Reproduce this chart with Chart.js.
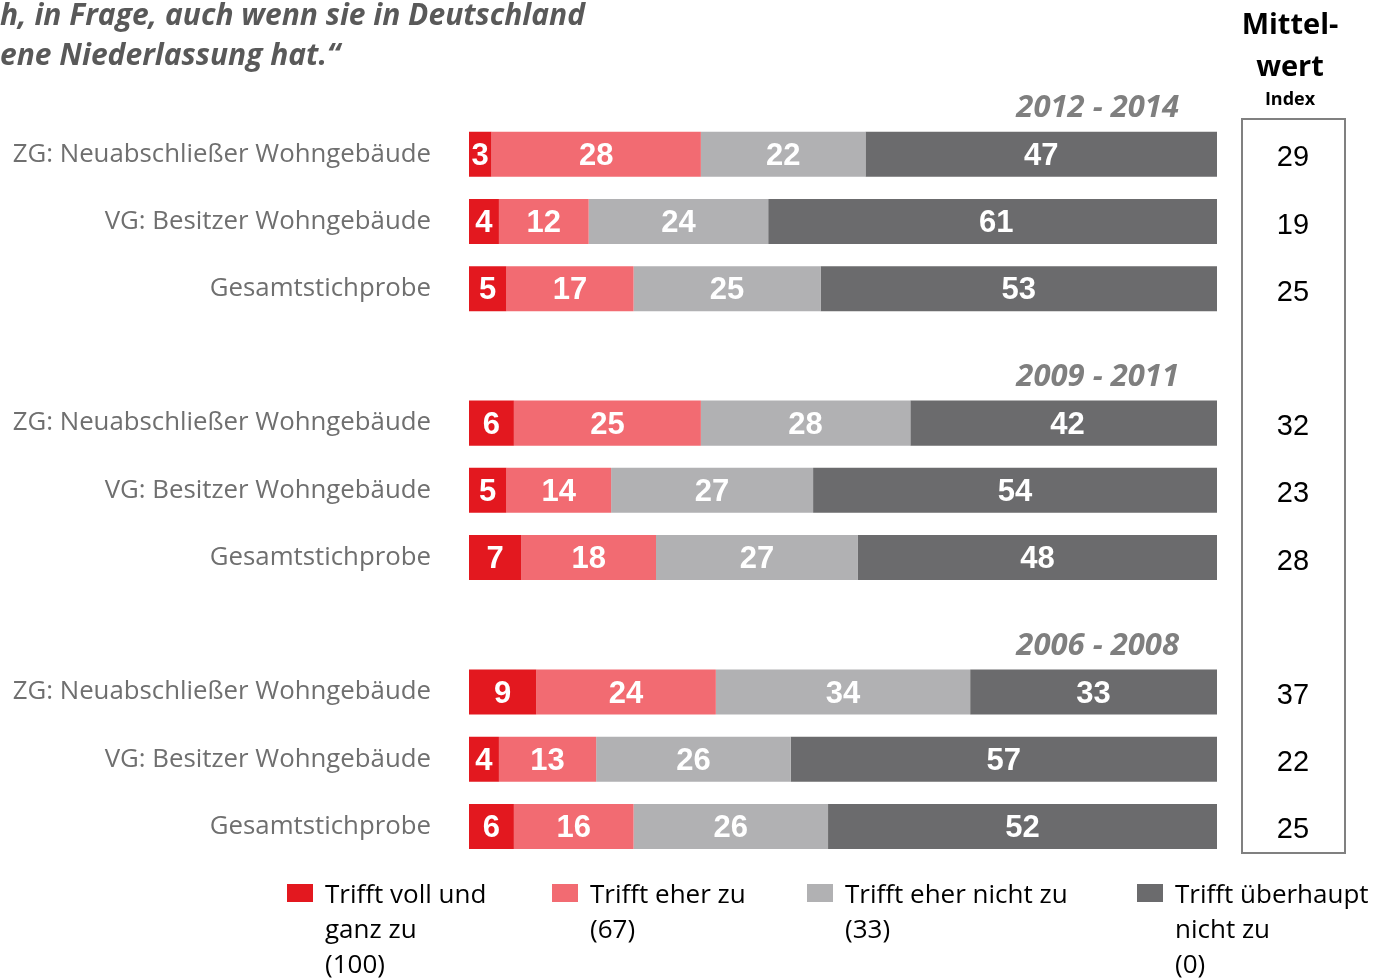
<!DOCTYPE html>
<html>
<head>
<meta charset="utf-8">
<script src="https://cdn.jsdelivr.net/npm/chart.js@4.4.1/dist/chart.umd.min.js"></script>
<style>
  html, body { margin: 0; padding: 0; background: #fff; }
  #wrap { position: relative; width: 1373px; height: 979px; overflow: hidden; }
  #chart { position: absolute; left: 0; top: 0; }
  .title { position: absolute; left: 0; font-family: "Open Sans", sans-serif; font-style: italic; font-weight: bold; font-size: 30px; color: #595959; white-space: nowrap; }
  .head { position: absolute; width: 120px; left: 1230px; text-align: center; font-family: "Open Sans", sans-serif; font-weight: bold; color: #000; }
  .leg { position: absolute; top: 876px; font-family: "Open Sans", sans-serif; font-size: 26px; line-height: 35px; color: #000; }
  .leg span { position: absolute; left: 0; top: 8px; width: 26px; height: 18px; }
  .leg div { margin-left: 38px; white-space: nowrap; }
</style>
</head>
<body>
<div id="wrap">
  <canvas id="chart" width="1373" height="979"></canvas>
  <div class="title" style="top:-7px">h, in Frage, auch wenn sie in Deutschland</div>
  <div class="title" style="top:33px">ene Niederlassung hat.“</div>
  <div class="head" style="top:2px;font-size:29px;line-height:42px">Mittel-<br>wert</div>
  <div class="head" style="top:86px;font-size:18px">Index</div>
  <div id="legend"></div>
</div>
<script>
document.addEventListener("DOMContentLoaded", function () {
    // rows (empty slots hold the period headings)
    const categories = ["", "ZG: Neuabschließer Wohngebäude", "VG: Besitzer Wohngebäude", "Gesamtstichprobe",
                        "", "ZG: Neuabschließer Wohngebäude", "VG: Besitzer Wohngebäude", "Gesamtstichprobe",
                        "", "ZG: Neuabschließer Wohngebäude", "VG: Besitzer Wohngebäude", "Gesamtstichprobe"];
    const periods = ["2012 - 2014", "", "", "", "2009 - 2011", "", "", "", "2006 - 2008", "", "", ""];

    const seriesNames = [["Trifft voll und", "ganz zu", "(100)"], ["Trifft eher zu", "(67)"],
                         ["Trifft eher nicht zu", "(33)"], ["Trifft überhaupt", "nicht zu", "(0)"]];
    const trifftVoll = [null, 3, 4, 5, null, 6, 5, 7, null, 9, 4, 6];
    const trifftEher = [null, 28, 12, 17, null, 25, 14, 18, null, 24, 13, 16];
    const eherNicht = [null, 22, 24, 25, null, 28, 27, 27, null, 34, 26, 26];
    const ueberhauptNicht = [null, 47, 61, 53, null, 42, 54, 48, null, 33, 57, 52];
    const mittelwert = [null, 29, 19, 25, null, 32, 23, 28, null, 37, 22, 25];

    const colors = ["#e3181f", "#f26b72", "#b1b1b3", "#6b6b6d"];
    const legendX = [287, 552, 807, 1137];

    // legend as html (multi-line labels)
    const legend = document.getElementById("legend");
    seriesNames.forEach((lines, i) => {
        const el = document.createElement("div");
        el.className = "leg";
        el.style.left = legendX[i] + "px";
        el.innerHTML = '<span style="background:' + colors[i] + '"></span><div>' + lines.join("<br>") + "</div>";
        legend.appendChild(el);
    });

    const textPlugin = {
        id: "texts",
        afterDatasetsDraw(chart) {
            const ctx = chart.ctx;
            const y = chart.scales.y;
            ctx.save();
            // values inside bars
            ctx.font = "bold 31px 'Liberation Sans', Arial, sans-serif";
            ctx.fillStyle = "#fff";
            ctx.textAlign = "center";
            ctx.textBaseline = "middle";
            chart.data.datasets.forEach((ds, di) => {
                chart.getDatasetMeta(di).data.forEach((bar, i) => {
                    if (ds.data[i] == null) return;
                    ctx.fillText(ds.data[i], (bar.x + bar.base) / 2, bar.y + 2);
                });
            });
            // period headings
            ctx.font = "italic bold 31px 'Open Sans', sans-serif";
            ctx.fillStyle = "#7f7f7f";
            ctx.textAlign = "right";
            periods.forEach((p, i) => {
                if (p) ctx.fillText(p, 1179, y.getPixelForValue(i) + 21);
            });
            // mean box
            const top = 119, bottom = 853;
            ctx.strokeStyle = "#808080";
            ctx.lineWidth = 2;
            ctx.strokeRect(1242, top, 103, bottom - top);
            ctx.font = "29px 'Liberation Sans', Arial, sans-serif";
            ctx.fillStyle = "#000";
            ctx.textAlign = "center";
            mittelwert.forEach((m, i) => {
                if (m != null) ctx.fillText(m, 1293, y.getPixelForValue(i) + 4);
            });
            ctx.restore();
        }
    };

    new Chart(document.getElementById("chart").getContext("2d"), {
        type: "bar",
        data: {
            labels: categories,
            datasets: [trifftVoll, trifftEher, eherNicht, ueberhauptNicht].map((d, i) => ({
                label: seriesNames[i].join(" "),
                data: d,
                backgroundColor: colors[i],
                borderWidth: 0,
                barPercentage: 0.67,
                categoryPercentage: 1
            }))
        },
        options: {
            indexAxis: "y",
            responsive: false,
            animation: false,
            layout: { padding: { left: 0, right: 156, top: 52, bottom: 119 } },
            plugins: { legend: { display: false }, tooltip: { enabled: false } },
            scales: {
                x: { stacked: true, min: 0, max: 100, display: false },
                y: {
                    stacked: true,
                    grid: { display: false, drawTicks: false },
                    border: { display: false },
                    ticks: {
                        padding: 38,
                        color: "#6f6f6f",
                        font: { family: "'Open Sans', sans-serif", size: 25.8 }
                    },
                    afterFit(scale) { scale.width = 469; }
                }
            }
        },
        plugins: [textPlugin]
    });
});
</script>
</body>
</html>
